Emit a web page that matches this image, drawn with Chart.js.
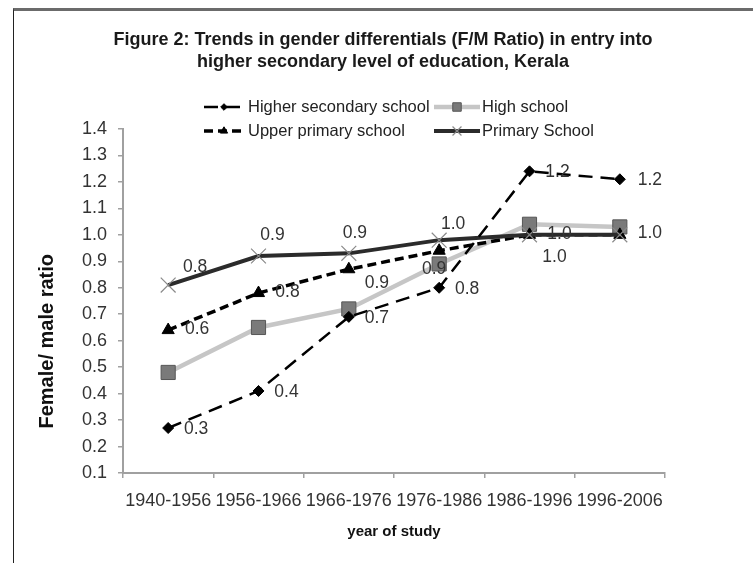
<!DOCTYPE html>
<html>
<head>
<meta charset="utf-8">
<script src="https://cdn.jsdelivr.net/npm/chart.js"></script>
<style>
  html, body { margin: 0; padding: 0; background: #fff; }
  #wrap { position: relative; width: 753px; height: 563px; }
  #frame { position: absolute; left: 13px; top: 8px; right: 0; bottom: 0;
           border-top: 3px solid #6b6b6b; border-left: 1px solid #222; pointer-events: none; }
</style>
</head>
<body>
<div id="wrap">
  <canvas id="fig2" width="753" height="563"></canvas>
  <div id="frame"></div>
</div>
<script>
// periods on the x axis
const periods = ['1940-1956', '1956-1966', '1966-1976', '1976-1986', '1986-1996', '1996-2006'];

// F/M ratio per level of schooling
const higherSecondary = [0.27, 0.41, 0.69, 0.80, 1.24, 1.21];
const highSchool      = [0.48, 0.65, 0.72, 0.89, 1.04, 1.03];
const upperPrimary    = [0.64, 0.78, 0.87, 0.94, 1.00, 1.00];
const primarySchool   = [0.81, 0.92, 0.93, 0.98, 1.00, 1.00];

const yTicksMin = 0.1, yTicksMax = 1.4, yStep = 0.1;

// where each value label sits relative to its point (null = no label)
const labelOffsets = [
  [[28, 1], [28, 1], [28, 1], [28, 1], [28, 1], [30, 1]],
  [null, null, null, [-5, 5], null, null],
  [[29, -1], [29, -1], [28, 14], null, [30, -1], [30, -2]],
  [[27, -18], [14, -21], [6, -20], [14, -16], [25, 22], null]
];

const FONT = "'Liberation Sans', Arial, sans-serif";
Chart.defaults.font.family = FONT;
Chart.defaults.color = '#333';

const pointLabels = {
  id: 'pointLabels',
  afterDatasetsDraw(chart, args, opts) {
    const ctx = chart.ctx;
    ctx.save();
    ctx.font = opts.size + 'px ' + FONT;
    ctx.fillStyle = opts.color;
    ctx.textAlign = 'center';
    ctx.textBaseline = 'middle';
    chart.data.datasets.forEach((ds, i) => {
      const meta = chart.getDatasetMeta(i);
      meta.data.forEach((pt, j) => {
        const o = opts.offsets[i][j];
        if (!o) return;
        ctx.fillText(ds.data[j].toFixed(1), pt.x + o[0], pt.y + o[1]);
      });
    });
    ctx.restore();
  }
};

// excel style legend: line sample with marker, two columns
const gridLegend = {
  id: 'gridLegend',
  afterDraw(chart, args, opts) {
    const ctx = chart.ctx;
    const H = Chart.helpers;
    ctx.save();
    ctx.font = opts.size + 'px ' + FONT;
    ctx.textBaseline = 'middle';
    ctx.textAlign = 'left';
    chart.data.datasets.forEach((ds, i) => {
      const col = opts.cols[i % 2], y = opts.rows[Math.floor(i / 2)];
      ctx.save();
      ctx.strokeStyle = ds.borderColor;
      ctx.lineWidth = ds.borderWidth;
      ctx.setLineDash(ds.borderDash || []);
      ctx.beginPath();
      ctx.moveTo(col[0], y);
      ctx.lineTo(col[1], y);
      ctx.stroke();
      ctx.setLineDash([]);
      ctx.fillStyle = ds.pointBackgroundColor;
      ctx.strokeStyle = ds.pointBorderColor;
      ctx.lineWidth = ds.pointBorderWidth;
      if (H && H.drawPoint) {
        H.drawPoint(ctx, {pointStyle: ds.pointStyle, radius: ds.pointRadius * 0.6,
                          rotation: 0, borderWidth: ds.pointBorderWidth}, (col[0] + col[1]) / 2, y);
      }
      ctx.restore();
      ctx.fillStyle = '#222';
      ctx.fillText(ds.label, col[2], y);
    });
    ctx.restore();
  }
};

new Chart(document.getElementById('fig2'), {
  type: 'line',
  data: {
    labels: periods,
    datasets: [
      {label: 'Higher secondary school', data: higherSecondary, order: 0,
       borderColor: '#000', borderWidth: 2.5, borderDash: [14, 8],
       pointStyle: 'rectRot', pointRadius: 5.5, pointBackgroundColor: '#000', pointBorderColor: '#000', pointBorderWidth: 1},
      {label: 'High school', data: highSchool, order: 3,
       borderColor: '#c6c6c6', borderWidth: 4.5,
       pointStyle: 'rect', pointRadius: 10, pointBackgroundColor: '#7a7a7a', pointBorderColor: '#565656', pointBorderWidth: 1},
      {label: 'Upper primary school', data: upperPrimary, order: 2,
       borderColor: '#000', borderWidth: 3.5, borderDash: [9, 5],
       pointStyle: 'triangle', pointRadius: 7, pointBackgroundColor: '#000', pointBorderColor: '#000', pointBorderWidth: 1},
      {label: 'Primary School', data: primarySchool, order: 1,
       borderColor: '#2b2b2b', borderWidth: 4,
       pointStyle: 'crossRot', pointRadius: 10.5, pointBackgroundColor: '#8a8a8a', pointBorderColor: '#8a8a8a', pointBorderWidth: 1.2}
    ]
  },
  options: {
    responsive: false,
    animation: false,
    devicePixelRatio: 1,
    layout: { padding: { left: 13, right: 0, top: 0, bottom: 0 } },
    elements: { line: { tension: 0 } },
    scales: {
      x: {
        offset: true,
        grid: { display: true, offset: true, drawOnChartArea: false, drawTicks: true, tickLength: 5, color: '#a0a0a0', lineWidth: 1.5 },
        border: { display: true, color: '#a0a0a0', width: 2 },
        ticks: { font: { size: 18 }, color: '#333', padding: 12, maxRotation: 0, minRotation: 0, autoSkip: false },
        title: { display: true, text: 'year of study', font: { size: 15, weight: 'bold' }, color: '#111', padding: { top: 0, bottom: 22 } },
        afterFit(s) { s.height = 90; }
      },
      y: {
        min: yTicksMin, max: yTicksMax,
        grid: { display: true, drawOnChartArea: false, drawTicks: true, tickLength: 5, color: '#a0a0a0', lineWidth: 1.5 },
        border: { display: true, color: '#a0a0a0', width: 2 },
        ticks: { stepSize: yStep, font: { size: 18 }, color: '#333', padding: 11, callback: v => v.toFixed(1) },
        title: { display: true, align: 'start', text: '        Female/ male ratio', font: { size: 20, weight: 'bold' }, color: '#111', padding: { top: 22, bottom: 0 } },
        afterFit(s) { s.width = 110; }
      },
      yRight: {
        position: 'right', display: true,
        ticks: { display: false }, grid: { display: false }, border: { display: false },
        afterFit(s) { s.width = 88; }
      }
    },
    plugins: {
      legend: { display: false },
      tooltip: { enabled: false },
      title: {
        display: true,
        text: ['Figure 2: Trends in gender differentials (F/M Ratio) in entry into',
               'higher secondary level of education, Kerala'],
        font: { size: 18, weight: 'bold', lineHeight: 1.2222 },
        color: '#1a1a1a',
        padding: { top: 29, bottom: 56 }
      },
      pointLabels: { size: 17.5, color: '#333', offsets: labelOffsets },
      gridLegend: { size: 16.5, rows: [107, 131], cols: [[204, 244, 248], [434, 480, 482]] }
    }
  },
  plugins: [pointLabels, gridLegend]
});
</script>
</body>
</html>
